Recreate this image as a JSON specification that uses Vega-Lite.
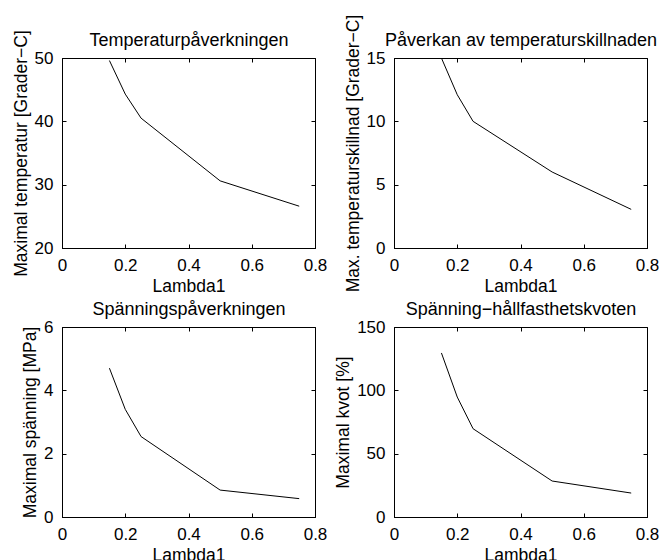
{
  "$schema": "https://vega.github.io/schema/vega-lite/v6.json",
  "autosize": "none",
  "padding": {"left": 62, "top": 58, "right": 601, "bottom": 502},
  "background": "white",
  "config": {
    "font": "Liberation Sans",
    "view": {"stroke": "black", "strokeWidth": 1},
    "axis": {
      "grid": false,
      "domainColor": "black",
      "tickColor": "black",
      "labelColor": "black",
      "titleColor": "black",
      "labelFont": "Liberation Sans",
      "titleFont": "Liberation Sans",
      "labelFontSize": 17,
      "titleFontSize": 17.5,
      "titleFontWeight": "normal",
      "tickSize": -4,
      "labelPadding": 13,
      "titlePadding": 4,
      "labelFlush": false,
      "labelOverlap": false,
      "minExtent": 0
    },
    "axisTop": {"titleFontSize": 18, "titlePadding": 8, "labelPadding": 0}
  },
  "columns": 2,
  "spacing": 79,
  "bounds": "flush",
  "concat": [
    {
      "width": 253, "height": 190,
      "data": {"values": [
        {"lambda": 0.15, "value": 49.6},
        {"lambda": 0.2, "value": 44.3},
        {"lambda": 0.25, "value": 40.5},
        {"lambda": 0.5, "value": 30.6},
        {"lambda": 0.75, "value": 26.6}
      ]},
      "layer": [
        {"mark": {"type": "line", "color": "black", "strokeWidth": 1, "clip": true},
         "encoding": {
           "x": {"field": "lambda", "type": "quantitative", "scale": {"domain": [0, 0.8]}, "axis": {"title": "Lambda1", "values": [0, 0.2, 0.4, 0.6, 0.8], "format": "~f"}},
           "y": {"field": "value", "type": "quantitative", "scale": {"domain": [20, 50]}, "axis": {"title": "Maximal temperatur [Grader−C]", "values": [20, 30, 40, 50], "format": "~f"}}
         }},
        {"mark": {"type": "line", "opacity": 0},
         "encoding": {
           "x": {"field": "lambda", "type": "quantitative", "scale": {"domain": [0, 0.8]}, "axis": {"orient": "top", "title": "Temperaturpåverkningen", "labels": false, "domain": false, "values": [0, 0.2, 0.4, 0.6, 0.8]}},
           "y": {"field": "value", "type": "quantitative", "scale": {"domain": [20, 50]}, "axis": {"orient": "right", "title": null, "labels": false, "domain": false, "labelPadding": 0, "values": [20, 30, 40, 50]}}
         }}
      ],
      "resolve": {"axis": {"x": "independent", "y": "independent"}}
    },
    {
      "width": 253, "height": 190,
      "data": {"values": [
        {"lambda": 0.15, "value": 15.0},
        {"lambda": 0.2, "value": 12.1},
        {"lambda": 0.25, "value": 10.0},
        {"lambda": 0.5, "value": 6.0},
        {"lambda": 0.75, "value": 3.05}
      ]},
      "layer": [
        {"mark": {"type": "line", "color": "black", "strokeWidth": 1, "clip": true},
         "encoding": {
           "x": {"field": "lambda", "type": "quantitative", "scale": {"domain": [0, 0.8]}, "axis": {"title": "Lambda1", "values": [0, 0.2, 0.4, 0.6, 0.8], "format": "~f"}},
           "y": {"field": "value", "type": "quantitative", "scale": {"domain": [0, 15]}, "axis": {"title": "Max. temperaturskillnad [Grader−C]", "values": [0, 5, 10, 15], "format": "~f"}}
         }},
        {"mark": {"type": "line", "opacity": 0},
         "encoding": {
           "x": {"field": "lambda", "type": "quantitative", "scale": {"domain": [0, 0.8]}, "axis": {"orient": "top", "title": "Påverkan av temperaturskillnaden", "labels": false, "domain": false, "values": [0, 0.2, 0.4, 0.6, 0.8]}},
           "y": {"field": "value", "type": "quantitative", "scale": {"domain": [0, 15]}, "axis": {"orient": "right", "title": null, "labels": false, "domain": false, "labelPadding": 0, "values": [0, 5, 10, 15]}}
         }}
      ],
      "resolve": {"axis": {"x": "independent", "y": "independent"}}
    },
    {
      "width": 253, "height": 190,
      "data": {"values": [
        {"lambda": 0.15, "value": 4.7},
        {"lambda": 0.2, "value": 3.4},
        {"lambda": 0.25, "value": 2.54},
        {"lambda": 0.5, "value": 0.85},
        {"lambda": 0.75, "value": 0.58}
      ]},
      "layer": [
        {"mark": {"type": "line", "color": "black", "strokeWidth": 1, "clip": true},
         "encoding": {
           "x": {"field": "lambda", "type": "quantitative", "scale": {"domain": [0, 0.8]}, "axis": {"title": "Lambda1", "values": [0, 0.2, 0.4, 0.6, 0.8], "format": "~f"}},
           "y": {"field": "value", "type": "quantitative", "scale": {"domain": [0, 6]}, "axis": {"title": "Maximal spänning [MPa]", "values": [0, 2, 4, 6], "format": "~f"}}
         }},
        {"mark": {"type": "line", "opacity": 0},
         "encoding": {
           "x": {"field": "lambda", "type": "quantitative", "scale": {"domain": [0, 0.8]}, "axis": {"orient": "top", "title": "Spänningspåverkningen", "labels": false, "domain": false, "values": [0, 0.2, 0.4, 0.6, 0.8]}},
           "y": {"field": "value", "type": "quantitative", "scale": {"domain": [0, 6]}, "axis": {"orient": "right", "title": null, "labels": false, "domain": false, "labelPadding": 0, "values": [0, 2, 4, 6]}}
         }}
      ],
      "resolve": {"axis": {"x": "independent", "y": "independent"}}
    },
    {
      "width": 253, "height": 190,
      "data": {"values": [
        {"lambda": 0.15, "value": 129.5},
        {"lambda": 0.2, "value": 94.7},
        {"lambda": 0.25, "value": 69.7},
        {"lambda": 0.5, "value": 28.4},
        {"lambda": 0.75, "value": 18.9}
      ]},
      "layer": [
        {"mark": {"type": "line", "color": "black", "strokeWidth": 1, "clip": true},
         "encoding": {
           "x": {"field": "lambda", "type": "quantitative", "scale": {"domain": [0, 0.8]}, "axis": {"title": "Lambda1", "values": [0, 0.2, 0.4, 0.6, 0.8], "format": "~f"}},
           "y": {"field": "value", "type": "quantitative", "scale": {"domain": [0, 150]}, "axis": {"title": "Maximal kvot [%]", "values": [0, 50, 100, 150], "format": "~f"}}
         }},
        {"mark": {"type": "line", "opacity": 0},
         "encoding": {
           "x": {"field": "lambda", "type": "quantitative", "scale": {"domain": [0, 0.8]}, "axis": {"orient": "top", "title": "Spänning−hållfasthetskvoten", "labels": false, "domain": false, "values": [0, 0.2, 0.4, 0.6, 0.8]}},
           "y": {"field": "value", "type": "quantitative", "scale": {"domain": [0, 150]}, "axis": {"orient": "right", "title": null, "labels": false, "domain": false, "labelPadding": 0, "values": [0, 50, 100, 150]}}
         }}
      ],
      "resolve": {"axis": {"x": "independent", "y": "independent"}}
    }
  ]
}
